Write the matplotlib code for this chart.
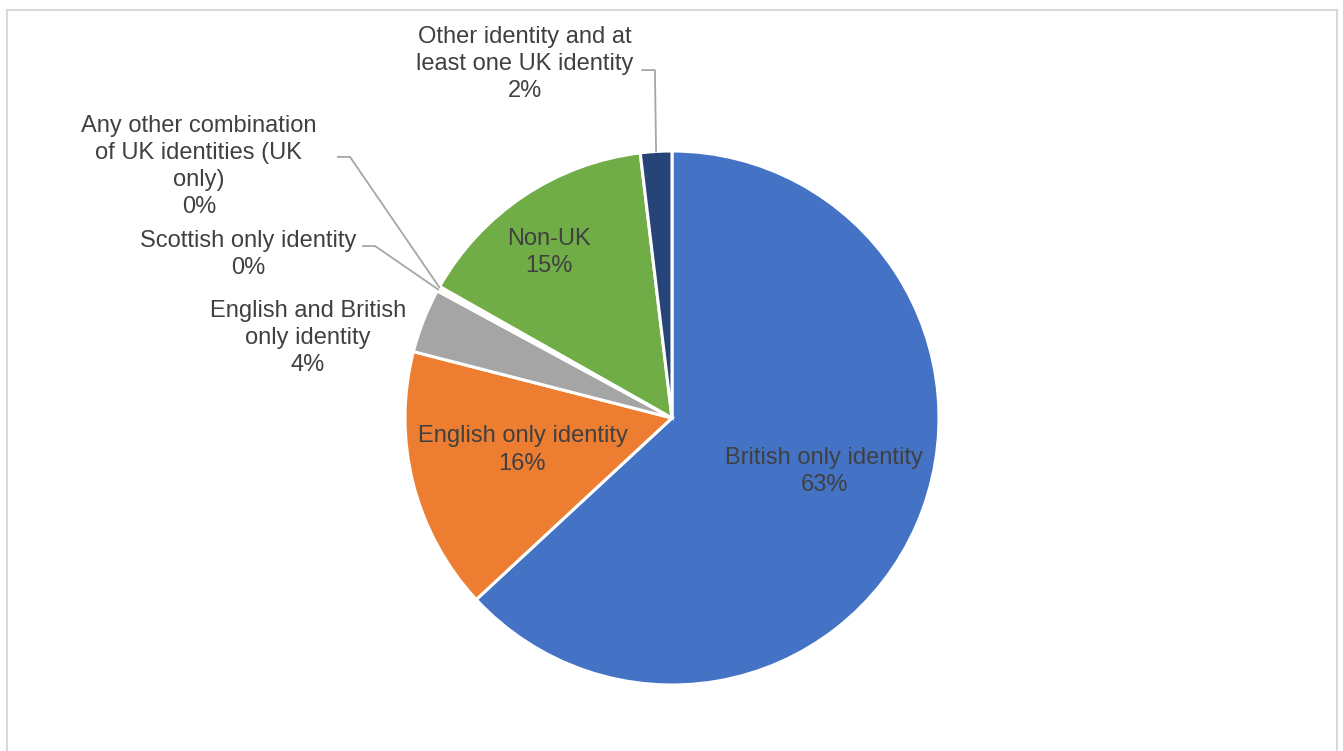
import matplotlib
matplotlib.use("Agg")
import matplotlib.pyplot as plt
import numpy as np

categories = [
    "British only identity",
    "English only identity",
    "English and British\nonly identity",
    "Scottish only identity",
    "Any other combination\nof UK identities (UK\nonly)",
    "Non-UK",
    "Other identity and at\nleast one UK identity",
]
values = [63.1, 15.9, 3.9, 0.2, 0.1, 14.9, 1.9]
pct_labels = ["63%", "16%", "4%", "0%", "0%", "15%", "2%"]
colors = ["#4472C4", "#ED7D31", "#A5A5A5", "#FFC000", "#5B9BD5", "#70AD47", "#264478"]

W, H = 1343, 751
fig = plt.figure(figsize=(W / 100, H / 100), dpi=100)
fig.patch.set_facecolor("white")

# outer chart frame
frame = plt.Rectangle((7 / W, -0.02), (1337 - 7) / W, (H - 10) / H + 0.02,
                      transform=fig.transFigure, fill=False,
                      edgecolor="#D9D9D9", linewidth=1.5)
fig.add_artist(frame)

cx, cy, r = 672, 418, 267
ax = fig.add_axes([(cx - r) / W, (H - cy - r) / H, 2 * r / W, 2 * r / H])
ax.set_xlim(-1, 1)
ax.set_ylim(-1, 1)
ax.set_aspect("equal")
ax.axis("off")

wedges, _ = ax.pie(values, colors=colors, startangle=90, counterclock=False,
                   radius=1.0, wedgeprops=dict(edgecolor="white", linewidth=2.2),
                   frame=False)
ax.set_xlim(-1, 1)
ax.set_ylim(-1, 1)

font = dict(family=["Liberation Sans", "DejaVu Sans"], fontsize=17, color="#404040")

# label placement per slice: (x, y) in axis units of radius; leader elbow if outside
label_pos = [(0.57, -0.20), (-0.56, -0.12), (-1.363, 0.30), (-1.588, 0.614),
             (-1.772, 0.941), (-0.46, 0.619), (-0.551, 1.326)]
leaders = {3: (-1.157, -1.112, 0.644), 4: (-1.251, -1.206, 0.978)}

cum = np.cumsum([0] + values[:-1])
for i, (name, pct) in enumerate(zip(categories, pct_labels)):
    x, y = label_pos[i]
    ax.text(x, y, f"{name}\n{pct}", ha="center", va="center",
            linespacing=1.3, clip_on=False, **font)
    mid = (cum[i] + values[i] / 2) / 100 * 2 * np.pi
    ex, ey = np.sin(mid), np.cos(mid)
    if i in leaders:
        x0, x1, yy = leaders[i]
        ax.plot([x0, x1, ex], [yy, yy, ey], color="#A6A6A6", lw=1.3,
                clip_on=False, solid_joinstyle="miter")
    if i == 6:
        ax.plot([-0.112, -0.064, ex], [1.303, 1.303, ey], color="#A6A6A6",
                lw=1.3, clip_on=False)

fig.savefig("out.png", dpi=100, facecolor="white")
